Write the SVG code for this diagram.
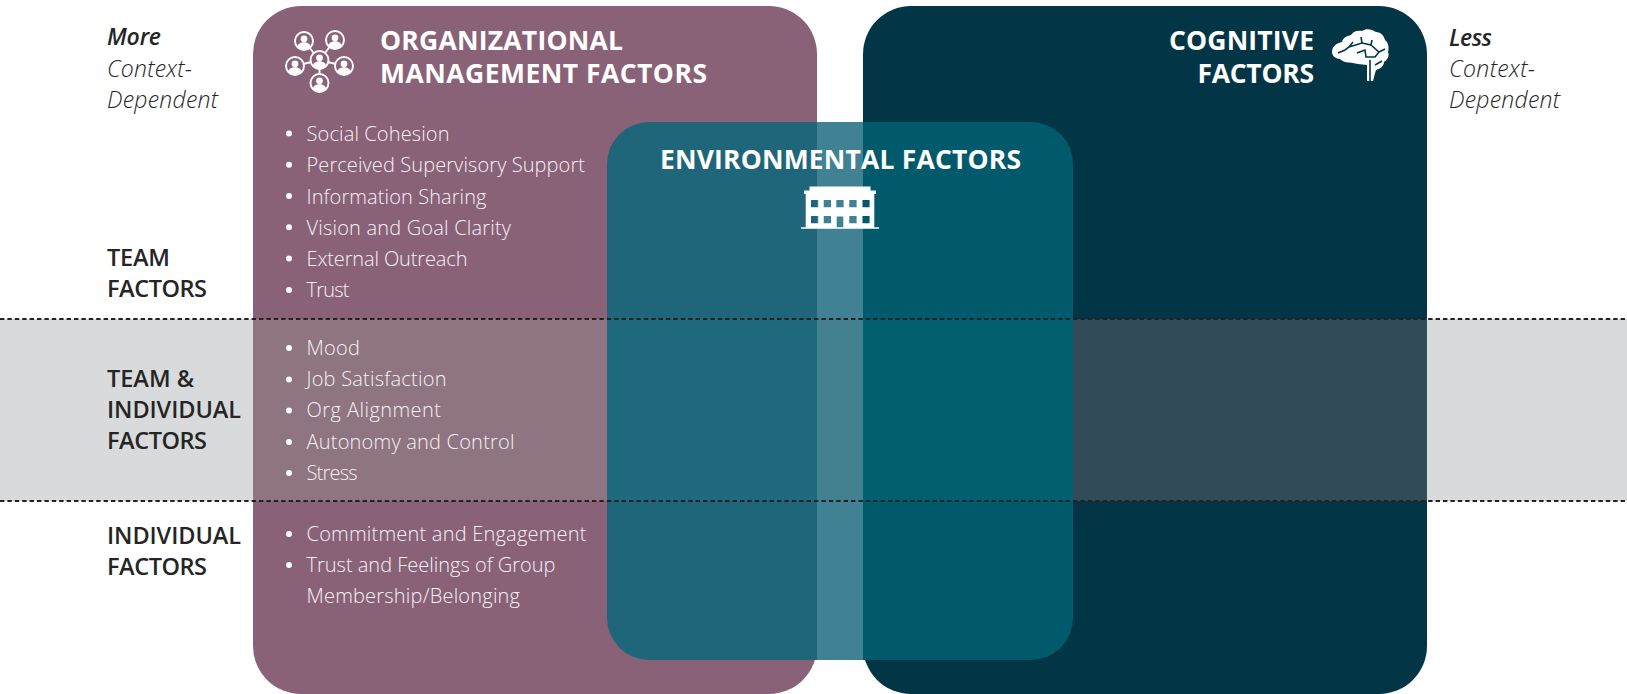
<svg xmlns="http://www.w3.org/2000/svg" xmlns:xlink="http://www.w3.org/1999/xlink" width="1627" height="694" viewBox="0 0 1627 694">
<style>
text{font-family:"Open Sans","Noto Sans","Liberation Sans",sans-serif}
.li{font-size:20px;font-weight:300;fill:#f6f1f4}
.lb{font-size:23.500px;font-weight:600;fill:#252525}
.it{font-size:23px;font-weight:300;font-style:italic;fill:#252525}
.itb{font-size:23px;font-weight:600;font-style:italic;fill:#252525}
.hd{font-size:26.500px;font-weight:700;fill:#fff}
.dash{stroke:#222;stroke-width:2;stroke-dasharray:4.400 3;fill:none}
.b{fill:#fff}
.ring{fill:none;stroke:#fff;stroke-width:1.900}
</style>
<defs>
<clipPath id="envClip"><rect x="607" y="122" width="466" height="538" rx="42"/></clipPath>
<g id="person"><circle r="9" class="ring"/><circle cy="-2.200" r="3.400" fill="#fff"/><path d="M-6.600 6.200C-6.400 2.600-3.400 1.200 0 1.200S6.400 2.600 6.600 6.200A9 9 0 0 1-6.600 6.200Z" fill="#fff"/></g>
</defs>
<g id="purple-panel"><rect x="253" y="6" width="564" height="688" rx="48" fill="#8a6278"/></g>
<g id="dark-panel"><rect x="863" y="6" width="564" height="688" rx="48" fill="#023647"/></g>
<g id="band">
<rect x="0" y="319" width="1627" height="182" fill="#d9dadc"/>
<rect x="253" y="319" width="564" height="182" fill="#8f7481"/>
<rect x="863" y="319" width="564" height="182" fill="#314b59"/>
</g>
<g id="environmental-panel" clip-path="url(#envClip)">
<rect x="607" y="122" width="210" height="538" fill="#1f667a"/>
<rect x="817" y="122" width="46" height="538" fill="#408194"/>
<rect x="863" y="122" width="210" height="538" fill="#015a6c"/>
<rect x="607" y="319" width="210" height="182" fill="#1f6a7e"/>
<rect x="817" y="319" width="46" height="182" fill="#438190"/>
<rect x="863" y="319" width="210" height="182" fill="#025f70"/>
</g>
<g id="connectors">
<line class="dash" x1="0" y1="319" x2="1627" y2="319"/>
<line class="dash" x1="0" y1="501" x2="1627" y2="501"/>
</g>
<g id="org-node">
<g id="org-icon">
<g stroke="#fff" stroke-width="1.900"><line x1="319.500" y1="60" x2="304" y2="41"/><line x1="319.500" y1="60" x2="335" y2="40"/><line x1="319.500" y1="60" x2="295" y2="66"/><line x1="319.500" y1="60" x2="344" y2="66"/><line x1="319.500" y1="60" x2="319.500" y2="83"/></g>
<circle cx="304" cy="41" r="9" fill="#8a6278"/><circle cx="335" cy="40" r="9" fill="#8a6278"/><circle cx="295" cy="66" r="9" fill="#8a6278"/><circle cx="344" cy="66" r="9" fill="#8a6278"/><circle cx="319.500" cy="83" r="9" fill="#8a6278"/><circle cx="319.500" cy="60" r="9.500" fill="#8a6278"/>
<use xlink:href="#person" href="#person" x="304" y="41"/><use xlink:href="#person" href="#person" x="335" y="40"/><use xlink:href="#person" href="#person" x="295" y="66"/><use xlink:href="#person" href="#person" x="344" y="66"/><use xlink:href="#person" href="#person" x="319.500" y="83"/><use xlink:href="#person" href="#person" x="319.500" y="60"/>
</g>
<text class="hd" x="380" y="50" textLength="243">ORGANIZATIONAL</text>
<text class="hd" x="380" y="83" textLength="327">MANAGEMENT FACTORS</text>
<g class="b"><circle cx="289" cy="133.500" r="3"/><circle cx="289" cy="164.700" r="3"/><circle cx="289" cy="196" r="3"/><circle cx="289" cy="227.200" r="3"/><circle cx="289" cy="258.400" r="3"/><circle cx="289" cy="290" r="3"/><circle cx="289" cy="348" r="3"/><circle cx="289" cy="379.500" r="3"/><circle cx="289" cy="410.500" r="3"/><circle cx="289" cy="442" r="3"/><circle cx="289" cy="473" r="3"/><circle cx="289" cy="534" r="3"/><circle cx="289" cy="565" r="3"/></g>
<text class="li" x="306.500" y="141.300" textLength="143">Social Cohesion</text>
<text class="li" x="306.500" y="172.400" textLength="278.500">Perceived Supervisory Support</text>
<text class="li" x="306.500" y="203.800" textLength="180">Information Sharing</text>
<text class="li" x="306.500" y="235" textLength="204.500">Vision and Goal Clarity</text>
<text class="li" x="306.500" y="266.300" textLength="161">External Outreach</text>
<text class="li" x="306.500" y="297.300" textLength="43">Trust</text>
<text class="li" x="306.500" y="354.800" textLength="53.500">Mood</text>
<text class="li" x="306.500" y="386.300" textLength="140">Job Satisfaction</text>
<text class="li" x="306.500" y="417.300" textLength="134.500">Org Alignment</text>
<text class="li" x="306.500" y="449" textLength="208">Autonomy and Control</text>
<text class="li" x="306.500" y="480.300" textLength="51">Stress</text>
<text class="li" x="306.500" y="541.300" textLength="280">Commitment and Engagement</text>
<text class="li" x="306.500" y="572.300" textLength="249">Trust and Feelings of Group</text>
<text class="li" x="306.500" y="603.300" textLength="213.500">Membership/Belonging</text>
</g>
<g id="cognitive-node">
<text class="hd" x="1169" y="50" textLength="145">COGNITIVE</text>
<text class="hd" x="1197.500" y="83" textLength="116.500">FACTORS</text>
<g id="brain-icon">
<path fill="#fff" d="M1332 52C1332 46 1337 43 1342 42C1343 37 1348 36 1351 35C1353 31 1358 30 1362 31C1366 28 1372 29 1376 32C1381 32 1384 36 1385 40C1389 43 1389 49 1388 52C1390 56 1387 60 1384 62C1384 66 1380 69 1376 70C1375 73 1374 77 1373 81L1367 81L1367 65L1358 64L1350 62.500C1346 63 1342 61 1340 59C1336 59 1332 56 1332 52Z"/>
<path fill="none" stroke="#023647" stroke-width="1.600" d="M1338 53L1345 50L1349 47L1353 42M1349 47L1362 43L1361 37M1362 43L1371 45L1372 40M1371 45L1379 52L1385 49M1357 53L1365 50L1366 57L1375 57L1379 52M1370 60L1370 81.500M1375 65L1382 61"/>
</g>
</g>
<g id="environmental-node">
<text class="hd" x="660" y="169" textLength="361">ENVIRONMENTAL FACTORS</text>
<path id="building-icon" fill="#fff" fill-rule="evenodd" d="M809.500 186.500H870.500V190.500H876V194H874.300V227.300H879V228.700H801V227.300H805.700V194H804V190.500H809.500ZM811 200V207.300H818.300V200ZM823.700 200V207.300H831V200ZM836.300 200V207.300H843.600V200ZM849.300 200V207.300H856.600V200ZM862.300 200V207.300H869.600V200ZM811 216V223.300H818.300V216ZM823.700 216V223.300H831V216ZM836.700 216.500V227.300H843.300V216.500ZM849.300 216V223.300H856.600V216ZM862.300 216V223.300H869.600V216Z"/>
</g>
<g id="left-labels">
<text class="itb" x="107" y="44.700" textLength="54">More</text>
<text class="it" x="107" y="76.700" textLength="85">Context-</text>
<text class="it" x="107" y="107.500" textLength="111">Dependent</text>
<text class="lb" x="107" y="266.300" textLength="63">TEAM</text>
<text class="lb" x="107" y="297.300" textLength="100">FACTORS</text>
<text class="lb" x="107" y="386.500" textLength="87">TEAM &amp;</text>
<text class="lb" x="107" y="417.500" textLength="134">INDIVIDUAL</text>
<text class="lb" x="107" y="448.500" textLength="100">FACTORS</text>
<text class="lb" x="107" y="543.500" textLength="134">INDIVIDUAL</text>
<text class="lb" x="107" y="574.500" textLength="100">FACTORS</text>
</g>
<g id="right-labels">
<text class="itb" x="1449" y="45.700" textLength="43">Less</text>
<text class="it" x="1449" y="77" textLength="86">Context-</text>
<text class="it" x="1449" y="108" textLength="111">Dependent</text>
</g>
</svg>
